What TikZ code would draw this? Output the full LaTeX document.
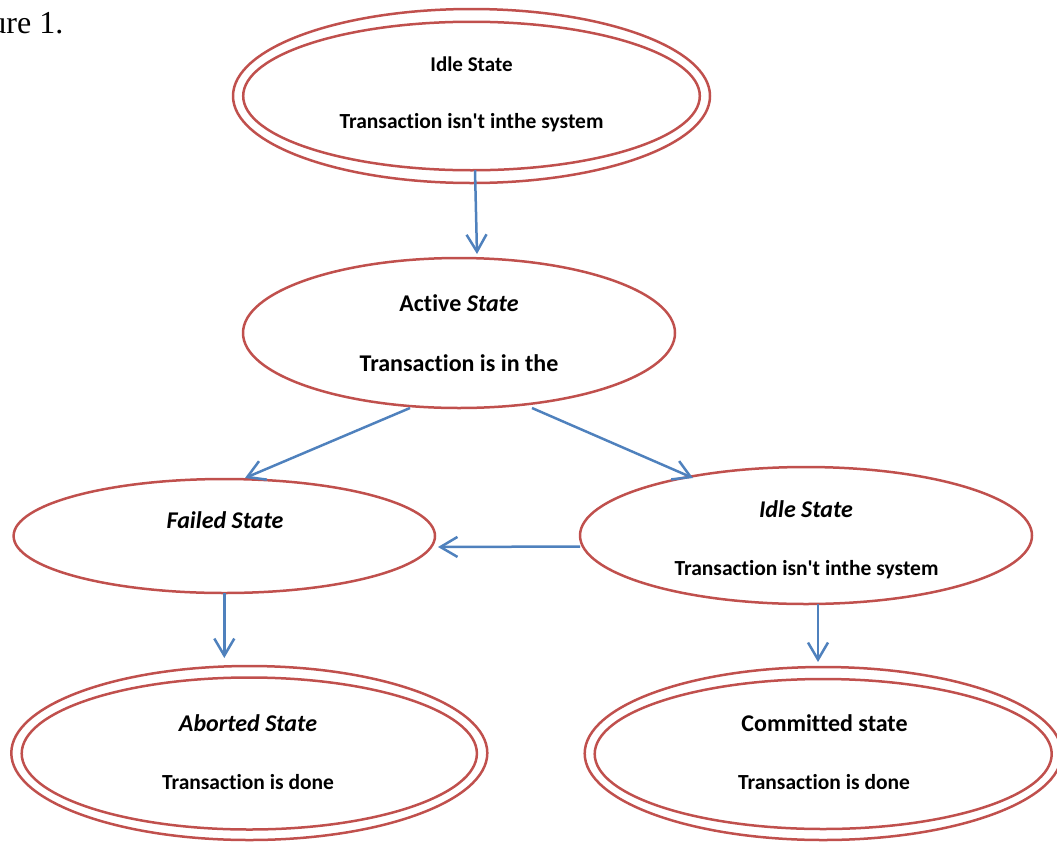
\documentclass[tikz,border=0pt]{standalone}
\usepackage{fontspec}
\setmainfont{Carlito}[Ligatures={NoCommon}]
\newfontfamily\serifface{Liberation Serif}
\usetikzlibrary{shapes.geometric,arrows.meta}
\definecolor{stateRed}{RGB}{192,80,77}
\definecolor{flowBlue}{RGB}{79,129,189}

\begin{document}
\begin{tikzpicture}[x=1pt,y=-1pt,
  state/.style={ellipse, draw=stateRed, line width=2.5pt, inner sep=0pt, outer sep=0pt},
  lbl/.style={anchor=base, inner sep=0pt, font=\bfseries\fontsize{21.5}{25}\selectfont},
  toplbl/.style={anchor=base, inner sep=0pt, font=\bfseries\fontsize{21}{25}\selectfont},
  biglbl/.style={anchor=base, inner sep=0pt, font=\bfseries\fontsize{24}{28}\selectfont},
  flow/.style={draw=flowBlue, line width=2.5pt, -{Straight Barb[length=17pt,width=20pt]}}
]
\useasboundingbox (0,0) rectangle (1057,841);

% caption fragment
\node[anchor=base east, inner sep=0pt, font=\serifface\fontsize{32}{36}\selectfont] (fig) at (63.5,33.3) {ure 1.};

% states
\node[state, minimum width=477pt, minimum height=174pt] (idle) at (471.5,96) {};
\node[state, minimum width=456.6pt, minimum height=148.5pt] (idleIn) at (471.5,96) {};
\node[state, minimum width=432pt, minimum height=150pt] (active) at (459,333) {};
\node[state, minimum width=421.4pt, minimum height=114pt] (failed) at (224.3,536) {};
\node[state, minimum width=452pt, minimum height=137pt] (wait) at (806,535.5) {};
\node[state, minimum width=476pt, minimum height=174pt] (abort) at (249.3,753) {};
\node[state, minimum width=455.2pt, minimum height=152pt] (abortIn) at (249.3,753.5) {};
\node[state, minimum width=477pt, minimum height=173pt] (commit) at (823.2,753.5) {};
\node[state, minimum width=457pt, minimum height=150pt] (commitIn) at (823.2,754) {};

% texts
\node[toplbl] (t1a) at (471.5,71.7) {Idle State};
\node[lbl] (t1b) at (471.5,128.3) {Transaction isn\textquotesingle t inthe system};
\node[biglbl] (t2a) at (459,311.7) {Active \textit{State}};
\node[biglbl] (t2b) at (459,371) {Transaction is in the};
\node[biglbl] (t3a) at (225,528.3) {\textit{Failed State}};
\node[biglbl] (t4a) at (806,517.3) {\textit{Idle State}};
\node[lbl] (t4b) at (806.5,575) {Transaction isn\textquotesingle t inthe system};
\node[biglbl] (t5a) at (248,731.7) {\textit{Aborted State}};
\node[lbl] (t5b) at (248,789.3) {Transaction is done};
\node[biglbl] (t6a) at (824.5,731.7) {Committed state};
\node[lbl] (t6b) at (824,789.3) {Transaction is done};

% transitions
\draw[flow] ([xshift=3.5pt]idleIn.south) -- ([xshift=18pt,yshift=4pt]active.north);
\draw[flow] ([xshift=-49pt]active.south) -- ([xshift=20.7pt,yshift=1pt]failed.north);
\draw[flow] ([xshift=73pt]active.south) -- ([xshift=-113pt,yshift=-11pt]wait.north);
\draw[flow] ([yshift=-11pt]wait.west) -- ([xshift=3pt,yshift=-11pt]failed.east);
\draw[flow] (failed.south) -- ([xshift=-25pt,yshift=8pt]abort.north);
\draw[flow] ([xshift=12pt]wait.south) -- ([xshift=-5.2pt,yshift=5pt]commit.north);
\end{tikzpicture}
\end{document}
